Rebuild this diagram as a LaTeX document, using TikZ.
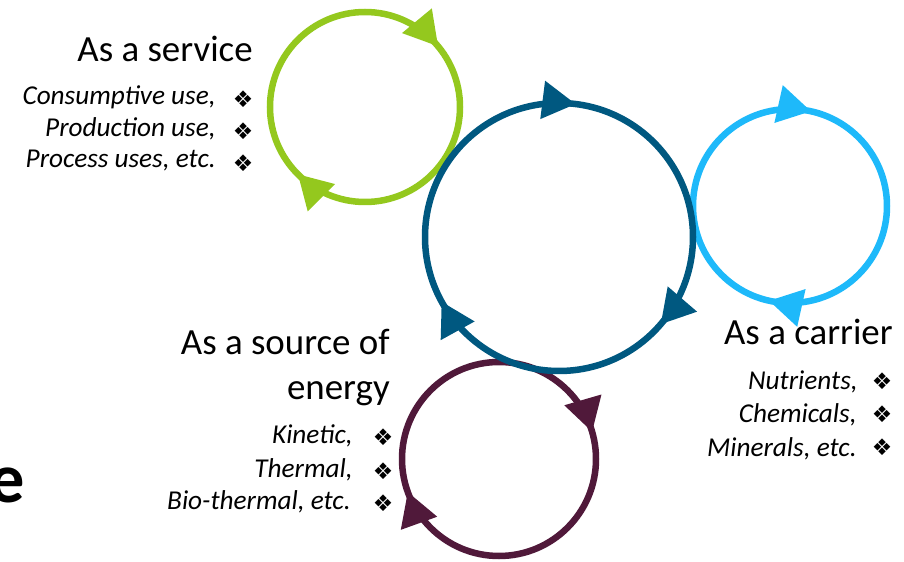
\documentclass[tikz,border=0pt]{standalone}
\usepackage{fontspec}
\setmainfont{Carlito}
\newfontfamily\dingfont{DejaVu Sans}
\usetikzlibrary{arrows.meta,decorations.markings}

\begin{document}
\begin{tikzpicture}[
    % GLOBAL CFG
    x=0.02cm, y=0.02cm,
    bigtip/.tip={Triangle[length=19pt,width=21pt]},
    % Styles
    loopline/.style={% For the cycles
        line width=3.7pt,
        },
    tipat/.style={% Arrow head placed on a cycle
        postaction={decorate, decoration={markings,
            mark=at position #1 with {\arrow{bigtip}}}},
        },
    heading/.style={% For the titles
        font=\fontsize{21}{24}\selectfont,
        anchor=base east,
        inner sep=0pt,
        },
    item/.style={% For the listed uses
        font=\fontsize{15.5}{18}\selectfont\itshape,
        anchor=base east,
        inner sep=0pt,
        },
    bullet/.style={% For the diamond marks
        font=\dingfont\fontsize{13}{13}\selectfont,
        inner sep=0pt,
        }
    ]

\useasboundingbox (0,0) rectangle (904,562);
\clip (0,0) rectangle (904,562);

%Colours
\definecolor{servgreen}{RGB}{148,200,30}
\definecolor{mainblue}{RGB}{0,88,128}
\definecolor{carrblue}{RGB}{30,185,250}
\definecolor{energpurple}{RGB}{80,25,58}

    % Centres of the cycles
    \coordinate (cserv) at (365,455);
    \coordinate (cmain) at (559,325);
    \coordinate (ccarr) at (790,356);
    \coordinate (cener) at (499,103);

    % Draw the cycles, all running clockwise
    \draw [loopline, servgreen, tipat=0.89, tipat=0.375]
        (cserv) ++(95,0) arc[start angle=0, end angle=-360, radius=95];
    \draw [loopline, energpurple, tipat=0.955, tipat=0.445]
        (cener) ++(97,0) arc[start angle=0, end angle=-360, radius=97];
    \draw [loopline, carrblue, tipat=0.785, tipat=0.285]
        (ccarr) ++(97,0) arc[start angle=0, end angle=-360, radius=97];
    \draw [loopline, mainblue, tipat=0.77, tipat=0.113, tipat=0.42]
        (cmain) ++(134,0) arc[start angle=0, end angle=-360, radius=134];

    % As a service
    \node [heading] (serv) at (253,500) {As a service};
    \node [item] (serv1) at (216,457) {Consumptive use,};
    \node [item] (serv2) at (216,425) {Production use,};
    \node [item] (serv3) at (216,394) {Process uses, etc.};
    \node [bullet] (bserv1) at (243,463) {❖};
    \node [bullet] (bserv2) at (243,431) {❖};
    \node [bullet] (bserv3) at (243,399) {❖};

    % As a source of energy
    \node [heading] (ener) at (390,207) {As a source of};
    \node [heading] (ener0) at (390,162) {energy};
    \node [item] (ener1) at (353,118) {Kinetic,};
    \node [item] (ener2) at (353,84) {Thermal,};
    \node [item] (ener3) at (351,52) {Bio-thermal, etc.};
    \node [bullet] (bener1) at (383,125) {❖};
    \node [bullet] (bener2) at (383,91) {❖};
    \node [bullet] (bener3) at (383,59) {❖};

    % As a carrier
    \node [heading] (carr) at (893,217) {As a carrier};
    \node [item] (carr1) at (858,172) {Nutrients,};
    \node [item] (carr2) at (857,139) {Chemicals,};
    \node [item] (carr3) at (857,105) {Minerals, etc.};
    \node [bullet] (bcarr1) at (882,181) {❖};
    \node [bullet] (bcarr2) at (882,148) {❖};
    \node [bullet] (bcarr3) at (882,115) {❖};

    % Cut off letter at the left edge
    \node [anchor=base east, inner sep=0pt, font=\fontsize{40}{40}\selectfont\bfseries] (cut) at (25,59) {e};

\end{tikzpicture}
\end{document}
